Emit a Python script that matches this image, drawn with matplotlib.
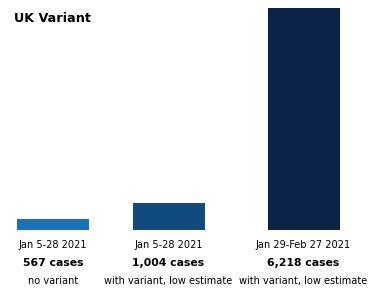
import matplotlib
matplotlib.use("Agg")
import matplotlib.pyplot as plt

# data
periods = ["Jan 5-28 2021", "Jan 5-28 2021", "Jan 29-Feb 27 2021"]
cases = [567, 1004, 6218]
case_labels = ["567 cases", "1,004 cases", "6,218 cases"]
notes = ["no variant", "with variant, low estimate", "with variant, low estimate"]
colors = ["#1b72b8", "#114a7f", "#0c2348"]

xpos = [53, 168.5, 303.5]

fig = plt.figure(figsize=(3.75, 2.99), dpi=100)
ax = fig.add_axes([0, 69 / 299, 1, 222 / 299])
ax.bar(xpos, cases, width=72, color=colors, bottom=0)
ax.set_xlim(0, 375)
ax.set_ylim(272, 6218)
ax.axis("off")

for x, p, c, n in zip(xpos, periods, case_labels, notes):
    fig.text(x / 375, 1 - 245 / 299, p, ha="center", va="center",
             fontsize=7.8, family="DejaVu Sans", fontstretch="condensed")
    fig.text(x / 375, 1 - 263 / 299, c, ha="center", va="center",
             fontsize=7.8, fontweight="bold", family="DejaVu Sans")
    fig.text(x / 375, 1 - 281 / 299, n, ha="center", va="center",
             fontsize=7.8, family="DejaVu Sans", fontstretch="condensed")

fig.text(14 / 375, 1 - 18 / 299, "UK Variant", ha="left", va="center",
         fontsize=9.2, fontweight="bold", family="DejaVu Sans")

fig.savefig("out.png", dpi=100)
